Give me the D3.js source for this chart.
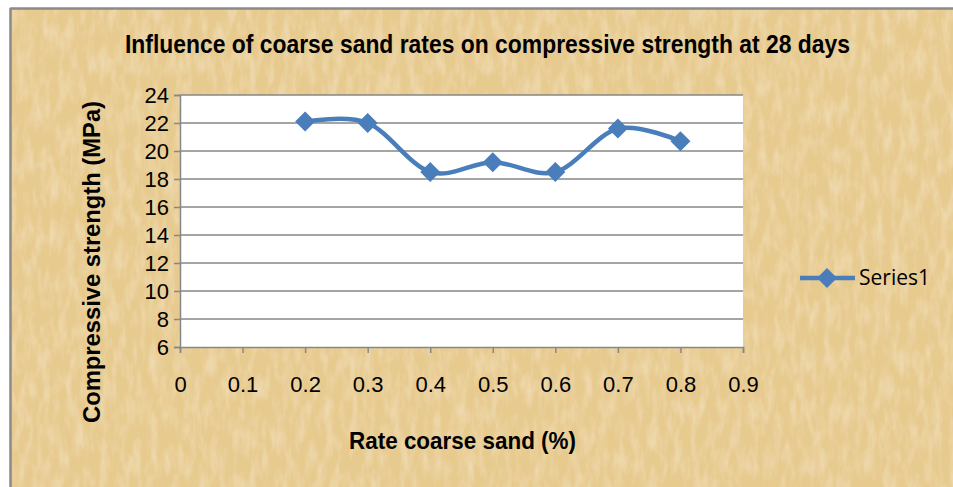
<!DOCTYPE html>
<html>
<head>
<meta charset="utf-8">
<script src="https://cdn.jsdelivr.net/npm/d3@7"></script>
<style>
  body { margin: 0; background: #fff; }
  svg { display: block; }
</style>
</head>
<body>
<svg width="953" height="487"></svg>
<script>
// chart data
var rates = [0.2, 0.3, 0.4, 0.5, 0.6, 0.7, 0.8];
var strength = [22.1, 22.0, 18.5, 19.2, 18.5, 21.6, 20.7];
var xTicks = [0, 0.1, 0.2, 0.3, 0.4, 0.5, 0.6, 0.7, 0.8, 0.9];
var yTicks = [6, 8, 10, 12, 14, 16, 18, 20, 22, 24];
var seriesName = "Series1";

var svg = d3.select("svg");
var sans = "'Liberation Sans', Arial, sans-serif";

// parchment texture
var defs = svg.append("defs");
var filt = defs.append("filter").attr("id", "paper")
    .attr("x", 0).attr("y", 0).attr("width", "100%").attr("height", "100%");
filt.append("feTurbulence")
    .attr("type", "fractalNoise")
    .attr("baseFrequency", "0.12 0.04")
    .attr("numOctaves", 3)
    .attr("seed", 7)
    .attr("result", "noise");
filt.append("feColorMatrix")
    .attr("in", "noise")
    .attr("type", "matrix")
    .attr("values", "0 0 0 0 0.96  0 0 0 0 0.88  0 0 0 0 0.70  0 0 0 0.75 -0.3")
    .attr("result", "tint");
filt.append("feComposite").attr("in", "tint").attr("in2", "SourceGraphic").attr("operator", "over");

svg.append("rect")
    .attr("x", 10).attr("y", 8).attr("width", 960).attr("height", 500)
    .attr("fill", "#e7ca8e")
    .attr("filter", "url(#paper)");
svg.append("line").attr("x1", 10).attr("x2", 953).attr("y1", 8.5).attr("y2", 8.5)
    .style("stroke", "#8a8a8a").style("stroke-width", 2.5);
svg.append("line").attr("x1", 10.5).attr("x2", 10.5).attr("y1", 8).attr("y2", 487)
    .style("stroke", "#8a8a8a").style("stroke-width", 2.5);

var plotL = 180, plotR = 743, plotT = 95, plotB = 347;

var x = d3.scaleLinear().domain([0, 0.9]).range([plotL, plotR]);
var y = d3.scaleLinear().domain([6, 24]).range([plotB, plotT]);

// plot area
svg.append("rect")
    .attr("x", plotL).attr("y", plotT)
    .attr("width", plotR - plotL).attr("height", plotB - plotT)
    .attr("fill", "#fff");

// gridlines
svg.append("g")
    .selectAll("line")
    .data(yTicks.filter(function (d) { return d > 6; }))
    .enter()
    .append("line")
    .attr("x1", plotL)
    .attr("x2", plotR)
    .attr("y1", function (d) { return y(d); })
    .attr("y2", function (d) { return y(d); })
    .style("stroke", "#878787")
    .style("stroke-width", 1.5);

// y axis
var yAxis = svg.append("g")
    .attr("transform", "translate(" + plotL + ",0)")
    .call(d3.axisLeft(y).tickValues(yTicks).tickSize(6).tickPadding(5));
// x axis
var xAxis = svg.append("g")
    .attr("transform", "translate(0," + plotB + ")")
    .call(d3.axisBottom(x).tickValues(xTicks).tickSize(6).tickPadding(23)
        .tickFormat(function (d) { return d === 0 ? "0" : d3.format(".1f")(d); }));

[yAxis, xAxis].forEach(function (ax) {
    ax.select(".domain").style("stroke", "#878787").style("stroke-width", 1.5);
    ax.selectAll(".tick line").style("stroke", "#878787").style("stroke-width", 1.5);
    ax.selectAll("text")
        .style("font-family", sans)
        .style("font-size", "22px")
        .style("fill", "#000");
});
yAxis.selectAll("text").attr("dy", "0.36em");

// series line
var line = d3.line()
    .x(function (d, i) { return x(rates[i]); })
    .y(function (d) { return y(d); })
    .curve(d3.curveCardinal.tension(0));

svg.append("path")
    .datum(strength)
    .attr("d", line)
    .attr("fill", "none")
    .style("stroke", "#4a7ebb")
    .style("stroke-width", 4.5);

var diamond = d3.symbol().type(d3.symbolSquare).size(200);
svg.selectAll(".marker")
    .data(strength)
    .enter()
    .append("path")
    .attr("class", "marker")
    .attr("d", diamond)
    .attr("transform", function (d, i) {
        return "translate(" + x(rates[i]) + "," + y(d) + ") rotate(45)";
    })
    .attr("fill", "#4a7ebb");

// titles (squeezed to mimic the condensed bold face)
svg.append("text")
    .attr("x", 125).attr("y", 53)
    .attr("textLength", 725)
    .attr("lengthAdjust", "spacingAndGlyphs")
    .style("font-family", sans)
    .style("font-weight", "bold")
    .style("font-size", "25px")
    .text("Influence of coarse sand rates on compressive strength at 28 days");

svg.append("text")
    .attr("transform", "translate(100,423) rotate(-90)")
    .attr("textLength", 322)
    .attr("lengthAdjust", "spacingAndGlyphs")
    .style("font-family", sans)
    .style("font-weight", "bold")
    .style("font-size", "24px")
    .text("Compressive strength (MPa)");

svg.append("text")
    .attr("x", 349).attr("y", 449)
    .attr("textLength", 227)
    .attr("lengthAdjust", "spacingAndGlyphs")
    .style("font-family", sans)
    .style("font-weight", "bold")
    .style("font-size", "24px")
    .text("Rate coarse sand (%)");

// legend
var legendX = 800, legendY = 278;
svg.append("line")
    .attr("x1", legendX).attr("x2", legendX + 55)
    .attr("y1", legendY).attr("y2", legendY)
    .style("stroke", "#4a7ebb").style("stroke-width", 4.5);
svg.append("path")
    .attr("d", diamond)
    .attr("transform", "translate(" + (legendX + 27) + "," + legendY + ") rotate(45)")
    .attr("fill", "#4a7ebb");
svg.append("text")
    .attr("x", legendX + 59).attr("y", legendY + 7)
    .style("font-family", "'Open Sans', sans-serif")
    .style("font-size", "21px")
    .style("fill", "#000")
    .text(seriesName);
</script>
</body>
</html>
